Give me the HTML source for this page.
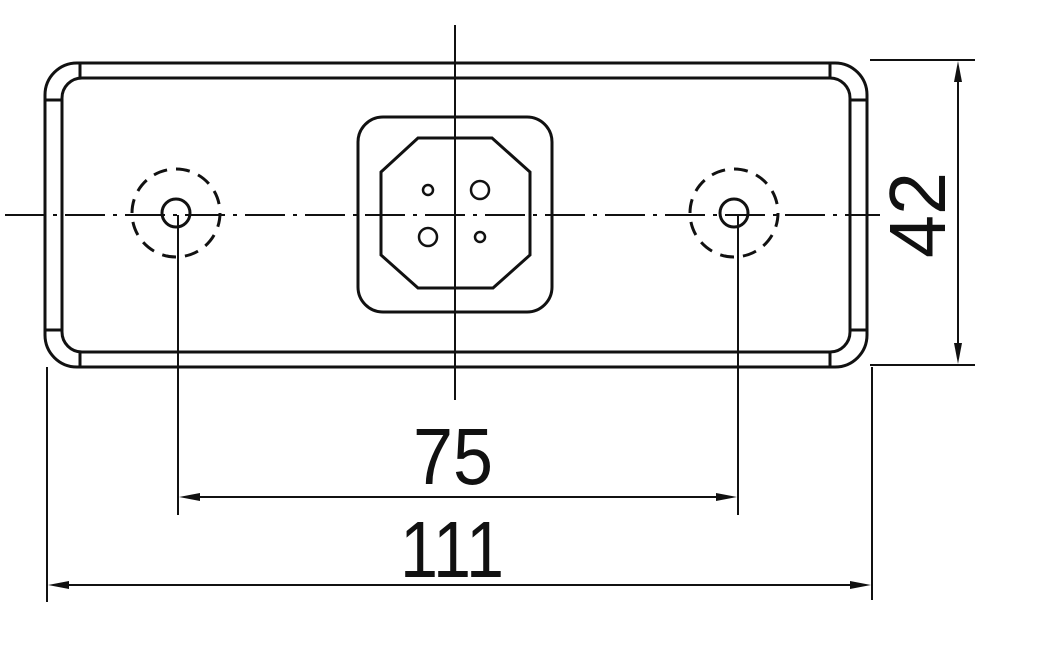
<!DOCTYPE html>
<html><head><style>body{margin:0;background:#fff}svg{display:block}</style></head><body>
<svg width="1052" height="671" viewBox="0 0 1052 671" xmlns="http://www.w3.org/2000/svg">
<g fill="none" stroke="#111" stroke-width="3">
<rect x="45" y="63" width="822" height="304" rx="32"/>
<rect x="62" y="78" width="788" height="274" rx="20"/>
<line x1="80" y1="63" x2="80" y2="78"/><line x1="830" y1="63" x2="830" y2="78"/>
<line x1="80" y1="352" x2="80" y2="367"/><line x1="830" y1="352" x2="830" y2="367"/>
<line x1="45" y1="100" x2="62" y2="100"/><line x1="850" y1="100" x2="867" y2="100"/>
<line x1="45" y1="330" x2="62" y2="330"/><line x1="850" y1="330" x2="867" y2="330"/>
<rect x="358" y="117" width="194" height="195" rx="25"/>
<polygon points="418,138 492,138 530,172 530,255 493,288 418,288 381,255 381,172"/>
<circle cx="428" cy="190" r="5" stroke-width="2.5"/>
<circle cx="480" cy="190" r="9" stroke-width="2.5"/>
<circle cx="428" cy="237" r="9" stroke-width="2.5"/>
<circle cx="480" cy="237" r="5" stroke-width="2.5"/>
<circle cx="176" cy="213" r="14"/><circle cx="734" cy="213" r="14"/>
<circle cx="176" cy="213" r="44" stroke-dasharray="14,9"/>
<circle cx="734" cy="213" r="44" stroke-dasharray="14,9"/>
</g>
<g stroke="#111" stroke-width="2" fill="none">
<line x1="5" y1="215" x2="880" y2="215" stroke-dasharray="40,8,4,8"/>
<line x1="455" y1="25" x2="455" y2="400"/>
<line x1="178" y1="215" x2="178" y2="515"/><line x1="738" y1="215" x2="738" y2="515"/>
<line x1="185" y1="497" x2="731" y2="497"/>
<line x1="47" y1="367" x2="47" y2="602"/><line x1="872" y1="367" x2="872" y2="600"/>
<line x1="54" y1="585" x2="865" y2="585"/>
<line x1="870" y1="60" x2="975" y2="60"/><line x1="870" y1="365" x2="975" y2="365"/>
<line x1="958" y1="67" x2="958" y2="358"/>
</g>
<g fill="#111">
<polygon points="179,497 200,493 200,501"/><polygon points="737,497 716,493 716,501"/>
<polygon points="48,585 69,581 69,589"/><polygon points="871,585 850,581 850,589"/>
<polygon points="958,61 954,82 962,82"/><polygon points="958,364 954,343 962,343"/>
</g>
<g font-family="Liberation Sans, sans-serif" font-size="80" fill="#111" text-anchor="middle">
<text x="453" y="484" textLength="80" lengthAdjust="spacingAndGlyphs">75</text>
<text x="452" y="577" textLength="104" lengthAdjust="spacingAndGlyphs">111</text>
<text transform="translate(945,215) rotate(-90)" x="0" y="0" textLength="86" lengthAdjust="spacingAndGlyphs">42</text>
</g>
</svg>
</body></html>
